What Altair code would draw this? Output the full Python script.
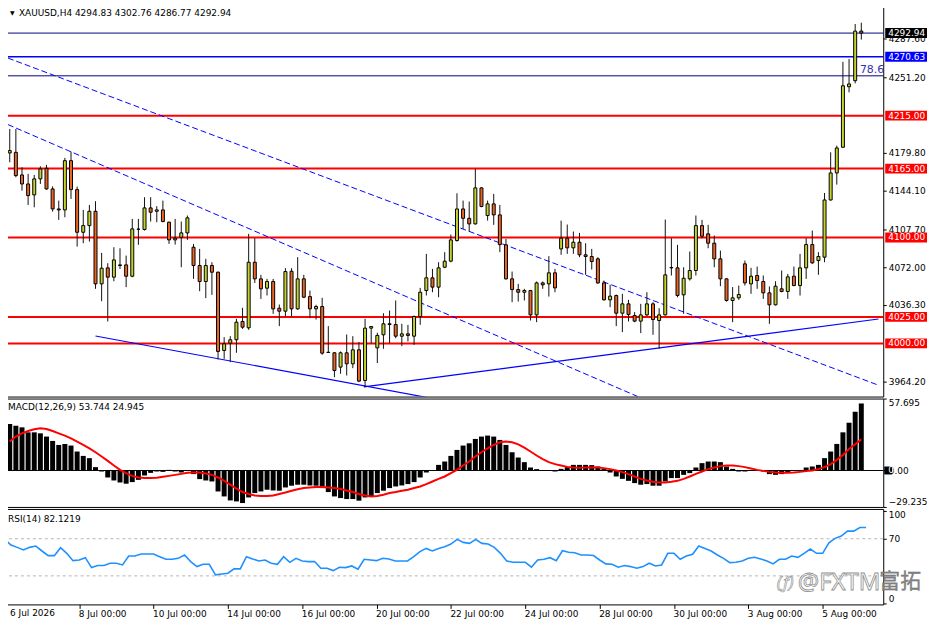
import json
import altair as alt
import pandas as pd

# ---------------- data ----------------
opens = [4179.8, 4180.4, 4159.0, 4150.5, 4140.2, 4155.3, 4165.3, 4145.8, 4126.9, 4126.0,
         4172.5, 4145.2, 4104.9, 4111.2, 4124.7, 4056.2, 4071.3, 4062.5, 4073.5, 4074.1,
         4063.4, 4107.8, 4107.5, 4127.9, 4124.7, 4126.0, 4114.4, 4097.7, 4100.2, 4104.3,
         4090.8, 4073.5, 4058.4, 4073.5, 4067.2, 3993.3, 4000.2, 4003.4, 4020.7, 4014.7,
         4076.6, 4060.9, 4052.1, 4058.4, 4033.2, 4030.4, 4068.1, 4032.6, 4060.9, 4044.2,
         4032.6, 4034.8, 3991.4, 3991.1, 3977.6, 3991.1, 3980.7, 3993.9, 3965.0, 4014.4,
         3995.8, 4008.1, 4018.5, 4017.8, 4006.8, 4009.0, 4006.8, 4025.4, 4049.9, 4061.9,
         4053.1, 4071.9, 4077.6, 4097.1, 4126.9, 4118.1, 4112.8, 4146.8, 4120.7, 4131.7,
         4121.3, 4093.0, 4060.9, 4050.8, 4048.3, 4049.9, 4026.9, 4057.1, 4056.2, 4066.6,
         4089.2, 4099.3, 4090.2, 4095.5, 4083.6, 4082.0, 4079.8, 4057.1, 4041.1, 4045.2,
         4028.5, 4037.3, 4026.3, 4021.0, 4026.9, 4037.3, 4021.6, 4026.9, 4071.3, 4071.3,
         4045.8, 4060.9, 4068.8, 4111.2, 4103.4, 4094.6, 4079.8, 4060.9, 4040.5, 4043.0,
         4075.1, 4056.2, 4064.1, 4058.4, 4047.7, 4036.4, 4051.5, 4049.0, 4063.4, 4054.6,
         4071.3, 4093.3, 4078.2, 4081.4, 4135.4, 4160.9, 4185.2, 4242.3, 4248.0, 4294.83]
highs = [4202.4, 4202.4, 4166.3, 4160.0, 4159.0, 4167.2, 4168.5, 4148.3, 4134.8, 4175.1,
         4181.0, 4148.0, 4126.0, 4130.7, 4134.2, 4085.4, 4075.7, 4090.8, 4089.8, 4082.9,
         4117.5, 4117.5, 4138.0, 4138.0, 4129.5, 4134.8, 4115.0, 4117.5, 4115.0, 4120.7,
         4093.9, 4089.2, 4079.8, 4076.6, 4067.8, 4005.9, 4006.8, 4023.2, 4033.6, 4103.4,
         4099.3, 4064.7, 4060.9, 4060.9, 4036.7, 4071.0, 4071.0, 4081.4, 4064.7, 4049.9,
         4036.4, 4043.0, 4016.3, 3991.7, 3992.4, 4008.4, 4006.8, 4001.2, 4023.2, 4016.3,
         4010.0, 4028.5, 4031.0, 4040.5, 4018.5, 4017.5, 4026.3, 4052.4, 4084.5, 4070.3,
         4076.6, 4086.1, 4102.7, 4141.7, 4134.8, 4133.9, 4164.7, 4147.4, 4134.8, 4141.1,
         4130.7, 4098.6, 4067.8, 4056.2, 4051.5, 4050.5, 4058.4, 4058.4, 4082.3, 4070.3,
         4115.9, 4112.2, 4105.6, 4104.3, 4094.6, 4089.2, 4081.4, 4059.3, 4055.3, 4046.1,
         4046.8, 4041.1, 4029.5, 4037.3, 4048.3, 4038.9, 4033.2, 4116.9, 4099.3, 4093.0,
         4071.9, 4086.7, 4120.7, 4116.6, 4111.9, 4101.8, 4087.6, 4061.5, 4053.1, 4054.6,
         4078.2, 4071.3, 4072.5, 4064.1, 4053.7, 4058.7, 4068.8, 4065.6, 4072.5, 4084.5,
         4099.3, 4106.5, 4086.1, 4142.0, 4180.4, 4186.7, 4265.8, 4268.5, 4301.5, 4302.76]
lows = [4171.0, 4156.8, 4144.2, 4130.7, 4128.5, 4150.5, 4145.2, 4124.4, 4116.6, 4119.1,
        4136.4, 4091.4, 4094.6, 4096.1, 4051.5, 4039.8, 4020.7, 4058.7, 4070.3, 4053.1,
        4062.5, 4093.0, 4106.5, 4115.0, 4114.4, 4114.4, 4093.9, 4093.3, 4071.9, 4097.7,
        4060.9, 4049.3, 4042.7, 4045.8, 3984.8, 3985.4, 3982.3, 3991.1, 4013.7, 4012.8,
        4057.1, 4042.0, 4045.2, 4027.9, 4016.3, 4025.4, 4025.4, 4031.7, 4042.7, 4023.8,
        4022.5, 3989.2, 3991.1, 3968.1, 3971.3, 3969.7, 3976.6, 3963.4, 3958.7, 4000.2,
        3981.4, 3994.9, 4000.2, 4004.9, 3997.4, 4001.8, 3998.6, 4017.5, 4045.2, 4048.3,
        4043.6, 4071.0, 4076.6, 4096.1, 4108.1, 4105.6, 4112.2, 4128.5, 4115.9, 4111.9,
        4086.1, 4060.3, 4038.9, 4039.5, 4040.5, 4021.6, 4020.0, 4051.5, 4044.2, 4048.3,
        4083.6, 4084.5, 4084.5, 4081.4, 4064.7, 4069.7, 4056.2, 4040.5, 4034.2, 4016.3,
        4010.6, 4020.7, 4020.0, 4009.7, 4025.7, 4008.1, 3994.9, 4026.3, 4064.1, 4043.6,
        4027.9, 4059.3, 4064.1, 4099.3, 4089.8, 4071.9, 4054.0, 4039.5, 4020.0, 4041.1,
        4054.6, 4046.8, 4051.5, 4042.0, 4018.5, 4035.8, 4048.3, 4042.0, 4054.0, 4045.2,
        4060.9, 4075.1, 4064.7, 4076.6, 4134.8, 4149.9, 4184.5, 4237.0, 4245.5, 4286.77]
closes = [4182.0, 4158.4, 4150.5, 4139.5, 4155.3, 4164.7, 4145.8, 4126.9, 4126.0, 4172.5,
          4145.2, 4104.9, 4111.2, 4124.7, 4056.2, 4071.0, 4062.5, 4078.8, 4074.1, 4063.4,
          4108.1, 4107.8, 4127.9, 4123.8, 4126.0, 4115.0, 4097.7, 4099.3, 4104.3, 4118.5,
          4073.5, 4058.4, 4073.5, 4067.2, 3992.4, 3999.6, 4003.4, 4020.0, 4015.3, 4076.6,
          4060.9, 4051.5, 4058.4, 4032.6, 4030.4, 4067.8, 4032.6, 4060.9, 4043.6, 4032.6,
          4034.8, 3990.8, 3991.6, 3974.4, 3991.1, 3980.7, 3993.9, 3964.4, 4014.4, 4015.9,
          4007.5, 4018.5, 4017.8, 4006.8, 4009.0, 4007.5, 4025.4, 4048.3, 4061.9, 4053.1,
          4071.3, 4077.6, 4097.7, 4126.9, 4118.1, 4112.8, 4146.8, 4129.2, 4131.7, 4121.3,
          4093.3, 4060.9, 4050.8, 4048.3, 4049.9, 4026.9, 4057.1, 4055.3, 4066.6, 4052.4,
          4099.3, 4090.2, 4095.5, 4083.6, 4082.0, 4077.3, 4057.1, 4041.1, 4044.6, 4028.5,
          4037.3, 4027.3, 4021.0, 4026.9, 4037.3, 4022.5, 4026.9, 4064.7, 4071.6, 4045.2,
          4061.5, 4068.8, 4111.2, 4101.2, 4094.6, 4079.8, 4060.9, 4040.5, 4043.0, 4046.1,
          4057.1, 4063.4, 4059.3, 4047.7, 4036.4, 4054.0, 4049.0, 4062.8, 4054.6, 4071.3,
          4093.3, 4076.0, 4082.0, 4135.4, 4160.9, 4184.5, 4243.2, 4244.9, 4294.8, 4292.94]

macd_hist = [37.3, 35.9, 34.6, 30.6, 30.6, 29.8, 27.2, 23.7, 20.5, 21.3,
             20.0, 15.2, 11.7, 9.9, 2.7, -0.8, -5.6, -8.0, -9.6, -10.6,
             -9.3, -7.5, -4.0, -1.9, -0.8, -1.1, 0.5, -0.8, -1.6, -0.3,
             -2.9, -6.9, -8.0, -8.8, -16.8, -20.8, -24.0, -24.8, -26.1, -21.6,
             -18.1, -16.8, -15.4, -16.0, -16.2, -13.6, -12.2, -11.4, -11.4, -12.0,
             -12.2, -14.1, -17.3, -20.8, -22.1, -22.9, -22.9, -24.2, -21.6, -20.8,
             -18.1, -16.2, -14.1, -12.8, -12.0, -10.9, -9.3, -5.6, -1.6, 0.3,
             4.5, 7.2, 11.7, 16.5, 20.0, 21.8, 25.3, 27.2, 28.0, 27.2,
             24.5, 20.5, 14.6, 10.4, 6.7, 2.4, 1.1, 0.3, -0.3, -0.8,
             1.3, 2.7, 4.5, 4.5, 4.5, 4.3, 3.2, 1.3, -1.6, -4.8,
             -6.7, -8.3, -10.1, -11.4, -10.9, -12.2, -12.2, -8.8, -6.1, -6.1,
             -3.5, -2.1, 2.4, 5.9, 7.2, 7.2, 6.7, 3.2, 1.3, -0.8,
             -0.8, -0.3, -0.3, -0.8, -2.9, -3.5, -2.9, -1.3, -0.3, -0.3,
             2.4, 3.2, 4.5, 9.9, 15.2, 21.3, 30.6, 38.3, 47.1, 53.744]
macd_signal = [23.2, 27.2, 29.8, 31.7, 33.0, 33.8, 33.3, 31.7, 29.8, 28.0,
               25.8, 23.2, 20.5, 17.8, 14.6, 11.2, 7.7, 4.0, 0.5, -2.1,
               -4.3, -5.6, -6.1, -6.1, -5.9, -5.1, -4.3, -3.5, -2.7, -1.9,
               -1.6, -1.6, -2.4, -3.5, -5.6, -8.3, -11.4, -14.6, -17.3, -18.9,
               -20.0, -20.5, -20.5, -20.0, -18.9, -17.6, -16.2, -15.0, -14.1, -13.6,
               -13.3, -13.3, -13.6, -14.1, -14.9, -16.0, -17.3, -18.9, -20.0, -20.8,
               -20.5, -19.4, -18.1, -17.3, -16.2, -15.4, -14.1, -12.8, -10.9, -8.8,
               -6.7, -4.8, -2.1, 0.5, 4.0, 7.2, 11.2, 14.6, 17.8, 20.5,
               22.6, 23.2, 22.6, 21.0, 18.4, 15.2, 12.0, 9.1, 6.7, 5.1,
               4.0, 2.9, 2.4, 2.1, 2.4, 2.5, 2.4, 1.9, 1.1, 0.0,
               -1.3, -2.9, -4.8, -6.7, -8.0, -9.1, -9.6, -9.6, -9.1, -8.3,
               -6.7, -4.8, -2.7, -0.8, 1.1, 2.4, 3.5, 4.0, 4.0, 3.5,
               2.7, 1.6, 0.5, -0.3, -1.1, -1.6, -1.9, -1.9, -1.6, -1.1,
               -0.5, 0.0, 1.1, 2.7, 5.1, 8.5, 12.5, 17.3, 21.0, 24.945]
rsi_vals = [69.3, 63.2, 60.7, 57.9, 60.7, 62.1, 56.8, 51.8, 51.8, 60.4,
            54.3, 46.4, 47.1, 49.6, 38.9, 41.1, 41.1, 43.6, 43.6, 41.8,
            51.4, 51.4, 53.6, 53.6, 53.6, 50.7, 47.9, 47.9, 48.9, 52.5,
            45.4, 40.0, 42.5, 42.5, 31.1, 32.1, 32.9, 37.5, 37.5, 50.7,
            48.2, 46.1, 47.1, 43.6, 42.5, 50.7, 44.6, 48.9, 46.1, 45.4,
            45.4, 38.2, 38.2, 35.7, 39.3, 38.9, 40.7, 37.1, 47.9, 47.1,
            46.4, 48.9, 48.2, 46.1, 46.1, 46.1, 50.7, 56.1, 59.6, 56.8,
            59.6, 61.4, 64.3, 69.3, 66.1, 65.0, 69.3, 65.0, 64.3, 60.7,
            54.3, 46.1, 44.6, 44.6, 44.6, 39.3, 47.1, 47.9, 49.6, 46.4,
            57.1, 55.4, 55.0, 52.5, 52.5, 51.9, 47.1, 42.9, 42.5, 39.3,
            41.1, 40.0, 38.2, 40.0, 43.6, 40.7, 41.8, 54.3, 54.3, 47.9,
            51.4, 53.2, 62.1, 59.6, 56.8, 52.5, 48.9, 44.3, 44.6, 46.1,
            48.9, 50.0, 48.2, 46.1, 42.9, 47.9, 47.9, 51.4, 50.0, 54.3,
            58.9, 54.3, 54.3, 65.7, 70.4, 72.9, 78.2, 78.2, 82.1, 82.1219]

date_idx = [0, 12, 24, 36, 48, 60, 72, 84, 96, 108, 120, 132]
date_labels = ["6 Jul 2026", "8 Jul 00:00", "10 Jul 00:00", "14 Jul 00:00", "16 Jul 00:00",
               "20 Jul 00:00", "22 Jul 00:00", "24 Jul 00:00", "28 Jul 00:00", "30 Jul 00:00",
               "3 Aug 00:00", "5 Aug 00:00"]

level_prices = [4292.94, 4270.63, 4252.6, 4215.00, 4165.00, 4100.00, 4025.00, 4000.00]
level_colors = ["#000080", "#0000ff", "#000080", "#ff0000", "#ff0000", "#ff0000", "#ff0000", "#ff0000"]
level_widths = [1, 1.5, 1, 2, 2, 2, 2, 2]

box_prices = [4292.94, 4270.63, 4215.00, 4165.00, 4100.00, 4025.00, 4000.00]
box_colors = ["#000000", "#0000ff", "#ff0000", "#ff0000", "#ff0000", "#ff0000", "#ff0000"]

price_ticks = [4287.60, 4251.20, 4179.80, 4144.10, 4107.70, 4072.00, 4036.30, 3964.20]
macd_ticks = [57.695, 0.0, -29.235]
rsi_ticks = [100, 70, 0]
rsi_levels = [70, 30]

trend_id = ["A", "A", "B", "B", "C", "C", "D", "D"]
trend_i = [-0.3, 141.8, -0.3, 105.0, 14.0, 70.0, 57.8, 141.8]
trend_p = [4269.4, 3960.5, 4206.6, 3943.6, 4007.0, 3946.9, 3959.0, 4023.0]
dashed_ids = ["A", "B"]

header_price = "XAUUSD,H4  4294.83 4302.76 4286.77 4292.94"
header_macd = "MACD(12,26,9) 53.744 24.945"
header_rsi = "RSI(14) 82.1219"
fib_text = "78.6"
fib_price = 4252.6
wm_logo = "(ƒ)"
wm_latin = "@FXTM"
wm_cjk = "富拓"

# ---------------- styling ----------------
W = 885
H_PRICE, H_MACD, H_RSI = 395, 109, 96
FONT = "DejaVu Sans"
FS = 9
BULL = "#c5d32e"
BEAR = "#ec6524"

n = len(opens)
idx = list(range(n))
candles = pd.DataFrame({"i": idx, "o": opens, "h": highs, "l": lows, "c": closes})
ind = pd.DataFrame({"i": idx, "hist": macd_hist, "sig": macd_signal, "rsi": rsi_vals})
levels = pd.DataFrame({"p": level_prices, "col": level_colors, "w": level_widths})
boxes = pd.DataFrame({"p": box_prices, "col": box_colors,
                      "t": [f"{v:.2f}" for v in box_prices]})
trends = pd.DataFrame({"id": trend_id, "i": trend_i, "p": trend_p})

xscale = alt.Scale(domain=[-0.284, 141.77], nice=False, zero=False)
pscale = alt.Scale(domain=[3949.8, 4320.7], nice=False, zero=False)
mscale = alt.Scale(domain=[-29.235, 57.695], nice=False, zero=False)
rscale = alt.Scale(domain=[-0.75, 102.1], nice=False, zero=False)

paxis = alt.Axis(orient="right", values=price_ticks, format=".2f", tickSize=3,
                 labelPadding=2, domain=False, grid=False, labelOverlap=False,
                 labelFont=FONT, labelFontSize=FS, labelColor="#000", tickColor="#000",
                 title=None)
X = alt.X("i:Q", scale=xscale, axis=None)

def py(field):
    return alt.Y(field, scale=pscale, axis=paxis)

box_path = "M-1,-0.238L1,-0.238L1,0.238L-1,0.238Z"

lv = alt.Chart(levels).mark_rule().encode(
    y=py("p:Q"), color=alt.Color("col:N", scale=None),
    strokeWidth=alt.StrokeWidth("w:Q", scale=None))

tr_dash = alt.Chart(trends).transform_filter(
    alt.FieldOneOfPredicate(field="id", oneOf=dashed_ids)
).mark_line(clip=True, color="#0000ff", strokeWidth=1, strokeDash=[6, 3]).encode(
    x=X, y=py("p:Q"), detail="id:N")
tr_solid = alt.Chart(trends).transform_filter(
    ~alt.FieldOneOfPredicate(field="id", oneOf=dashed_ids)
).mark_line(clip=True, color="#0000ff", strokeWidth=1.2).encode(
    x=X, y=py("p:Q"), detail="id:N")

wicks = alt.Chart(candles).mark_rule(color="#111", strokeWidth=1).encode(
    x=X, y=py("l:Q"), y2="h:Q")
bodies = alt.Chart(candles).mark_bar(size=3, stroke="#000", strokeWidth=1).encode(
    x=X, y=py("o:Q"), y2="c:Q",
    color=alt.condition("datum.c >= datum.o", alt.value(BULL), alt.value(BEAR)))

box_marks = alt.Chart(boxes).mark_point(shape=box_path, size=1764, filled=True,
                                        opacity=1, strokeWidth=0).encode(
    x=alt.value(W + 23), y=py("p:Q"), color=alt.Color("col:N", scale=None))
box_text = alt.Chart(boxes).mark_text(align="left", baseline="middle", font=FONT,
                                      fontSize=FS, color="#ffffff").encode(
    x=alt.value(W + 5), y=py("p:Q"), text="t:N")

fib = alt.Chart(pd.DataFrame({"t": [fib_text], "p": [fib_price]})).mark_text(
    align="right", baseline="bottom", font=FONT, fontSize=11, color="#3434b0", dy=-1
).encode(x=alt.value(W + 1), y=py("p:Q"), text="t:N")

tri = alt.Chart(pd.DataFrame({"t": ["▼"]})).mark_text(
    align="left", baseline="middle", font=FONT, fontSize=6, color="#000"
).encode(x=alt.value(7), y=alt.value(9), text="t:N")
hdr = alt.Chart(pd.DataFrame({"t": [header_price]})).mark_text(
    align="left", baseline="middle", font=FONT, fontSize=FS, color="#000"
).encode(x=alt.value(16), y=alt.value(9), text="t:N")

price = alt.layer(lv, tr_dash, tr_solid, wicks, bodies, box_marks, box_text, fib, tri, hdr
                  ).properties(width=W, height=H_PRICE)

# ---------------- MACD ----------------
maxis = alt.Axis(orient="right", values=macd_ticks, tickSize=3, labelPadding=2,
                 labelExpr="datum.value == 0 ? '0.00' : format(datum.value, '.3f')",
                 labelFlush=8, domain=False, grid=False, labelOverlap=False,
                 labelFont=FONT, labelFontSize=FS, labelColor="#000", tickColor="#000",
                 title=None)
MY = lambda f: alt.Y(f, scale=mscale, axis=maxis)
mbars = alt.Chart(ind).mark_bar(size=5, color="#000").encode(
    x=X, y=MY("hist:Q"), y2=alt.datum(0))
mzero = alt.Chart(ind).mark_rule(color="#000", strokeWidth=1).encode(y=MY("z:Q")).transform_calculate(
    z="0").transform_filter("datum.i == 0")
msig = alt.Chart(ind).mark_line(color="#ff0000", strokeWidth=2).encode(x=X, y=MY("sig:Q"))
mbox = alt.Chart(pd.DataFrame({"v": [0.0]})).mark_point(
    shape="square", size=64, filled=True, opacity=1, color="#000", strokeWidth=0
).encode(x=alt.value(W + 5), y=MY("v:Q"))
mzero_txt = alt.Chart(pd.DataFrame({"v": [0.0], "t": ["0"]})).mark_text(
    align="left", baseline="middle", font=FONT, fontSize=FS, color="#fff"
).encode(x=alt.value(W + 5), y=MY("v:Q"), text="t:N")
mhdr = alt.Chart(pd.DataFrame({"t": [header_macd]})).mark_text(
    align="left", baseline="middle", font=FONT, fontSize=FS, color="#000"
).encode(x=alt.value(5), y=alt.value(9), text="t:N")
macd = alt.layer(mbars, mzero, msig, mbox, mzero_txt, mhdr).properties(width=W, height=H_MACD)

# ---------------- RSI ----------------
label_expr = f"{json.dumps(date_labels)}[indexof({json.dumps(date_idx)}, datum.value)]"
xaxis = alt.Axis(values=date_idx[1:], labelExpr=label_expr, labelAlign="left", labelFlush=False,
                 tickSize=4, labelPadding=1, labelOffset=-1, domain=False, grid=False,
                 labelOverlap=False, labelFont=FONT, labelFontSize=FS, labelColor="#000",
                 tickColor="#000", title=None)
raxis = alt.Axis(orient="right", values=rsi_ticks, format="d", tickSize=3, labelPadding=2,
                 labelFlush=8, domain=False, grid=False, labelOverlap=False,
                 labelFont=FONT, labelFontSize=FS, labelColor="#000", tickColor="#000",
                 title=None)
RY = lambda f: alt.Y(f, scale=rscale, axis=raxis)
rlev = alt.Chart(pd.DataFrame({"v": rsi_levels})).mark_rule(
    color="#b4b4b4", strokeWidth=1, strokeDash=[3, 3]).encode(y=RY("v:Q"))
rline = alt.Chart(ind).mark_line(color="#1e90ff", strokeWidth=1.6).encode(
    x=alt.X("i:Q", scale=xscale, axis=xaxis), y=RY("rsi:Q"))
first_date = alt.Chart(pd.DataFrame({"t": [date_labels[0]]})).mark_text(
    align="left", baseline="top", font=FONT, fontSize=FS, color="#000"
).encode(x=alt.value(7), y=alt.value(H_RSI + 5), text="t:N")
rhdr = alt.Chart(pd.DataFrame({"t": [header_rsi]})).mark_text(
    align="left", baseline="middle", font=FONT, fontSize=FS, color="#000"
).encode(x=alt.value(5), y=alt.value(10), text="t:N")
wm1 = alt.Chart(pd.DataFrame({"t": [wm_logo]})).mark_text(
    align="left", baseline="middle", font="Noto Sans", fontSize=17, fontStyle="italic",
    color="#ffffff", stroke="#9a9a9a", strokeWidth=0.7
).encode(x=alt.value(778), y=alt.value(74), text="t:N")
wm2 = alt.Chart(pd.DataFrame({"t": [wm_latin]})).mark_text(
    align="left", baseline="middle", font="Noto Sans", fontSize=24,
    color="#ffffff", stroke="#8f8f8f", strokeWidth=0.8
).encode(x=alt.value(799), y=alt.value(74), text="t:N")
wm3 = alt.Chart(pd.DataFrame({"t": [wm_cjk]})).mark_text(
    align="left", baseline="middle", font="Noto Sans CJK SC", fontSize=21,
    color="#858585", stroke="#6a6a6a", strokeWidth=0.3
).encode(x=alt.value(881), y=alt.value(73), text="t:N")
rsi = alt.layer(rlev, rline, first_date, rhdr, wm1, wm2, wm3).properties(width=W, height=H_RSI)

chart = alt.vconcat(price, macd, rsi, spacing=2, bounds="flush").resolve_scale(
    x="independent", y="independent"
).properties(
    padding={"left": -7, "top": -7, "right": 0, "bottom": 0},
    background="#ffffff",
).configure_view(stroke="#000000", strokeWidth=1)

chart.save("out.html", embed_options={"renderer": "svg", "actions": False})
